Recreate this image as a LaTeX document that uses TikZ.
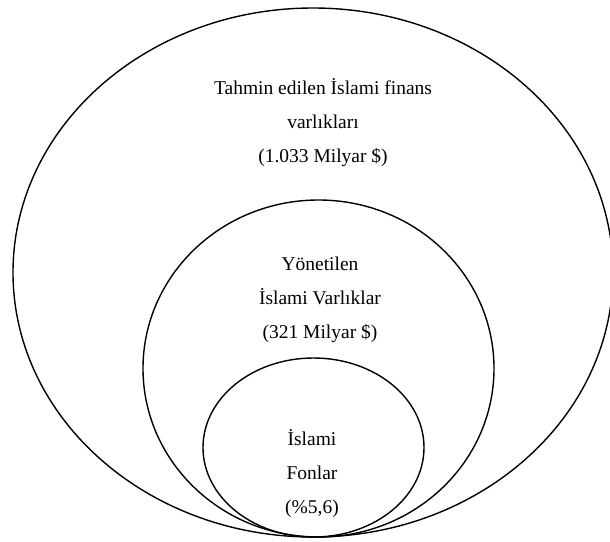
\documentclass[tikz,border=0pt]{standalone}
\usepackage{fontspec}
\setmainfont{Liberation Serif}
\usetikzlibrary{shapes.geometric,positioning}

\tikzset{
    ring/.style={draw, ellipse, line width=1.4pt, inner sep=0pt},
    label/.style={align=center, font=\fontsize{19.5}{34}\selectfont}
}

\begin{document}
\begin{tikzpicture}[x=1pt,y=-1pt]
\useasboundingbox (0,0) rectangle (610,541);

% Nested sets
\node[ring, minimum width=600pt, minimum height=529pt] (outer) at (313,272.5) {};
\node[ring, minimum width=351pt, minimum height=337pt] (middle) at (318.5,368.5) {};
\node[ring, minimum width=221pt, minimum height=179pt] (inner) at (313.5,447.5) {};

% Labels
\node[label] (outertext) at (323,123) {Tahmin edilen İslami finans\\varlıkları\\(1.033 Milyar \$)};
\node[label] (middletext) at (320,300) {Yönetilen\\İslami Varlıklar\\(321 Milyar \$)};
\node[label] (innertext) at (312,474) {İslami\\Fonlar\\(\%5,6)};

\end{tikzpicture}
\end{document}
